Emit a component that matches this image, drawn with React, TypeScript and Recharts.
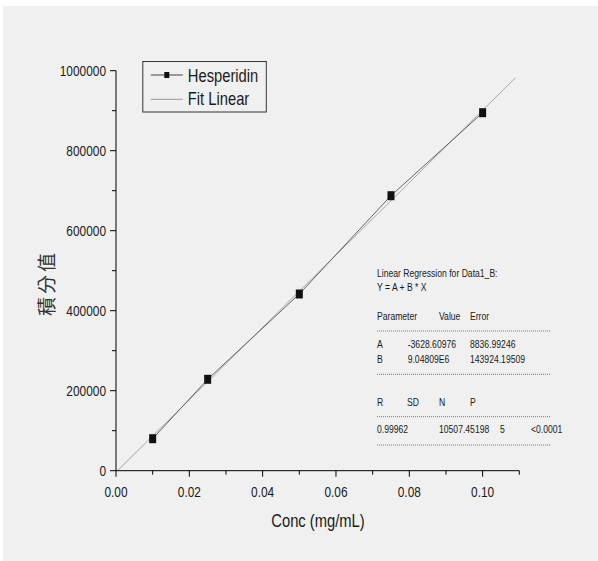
import { ComposedChart, Customized, Line, XAxis, YAxis } from "recharts";

// concentration (mg/mL) vs integrated peak area
const concValues = [0.01, 0.025, 0.05, 0.075, 0.1];
const areaValues = [80000, 228500, 441800, 687500, 895000];

// fitted line endpoints as drawn
const fitConc = [0, 0.109];
const fitArea = [-3629, 982600];

const xTicks = [0, 0.01, 0.02, 0.03, 0.04, 0.05, 0.06, 0.07, 0.08, 0.09, 0.1, 0.11];
const yTicks = [0, 100000, 200000, 300000, 400000, 500000, 600000, 700000, 800000, 900000, 1000000];

const seriesNames = ["Hesperidin", "Fit Linear"];

const regressionTitle = ["Linear Regression for Data1_B:", "Y = A + B * X"];
const paramHeader = ["Parameter", "Value", "Error"];
const paramRows = [
	["A", "-3628.60976", "8836.99246"],
	["B", "9.04809E6", "143924.19509"],
];
const statHeader = ["R", "SD", "N", "P"];
const statValues = ["0.99962", "10507.45198", "5", "<0.0001"];

const points = concValues.map((x, i) => ({ x, y: areaValues[i] }));
const fitPoints = fitConc.map((x, i) => ({ x, y: fitArea[i] }));

const FONT = "'Liberation Sans', Arial, sans-serif";
const SQUEEZE = 0.82;

// narrow text: Liberation Sans squeezed horizontally
const NText = ({ x, y, size, anchor = "start", children }: any) => (
	<text
		transform={`translate(${x} ${y}) scale(${SQUEEZE} 1)`}
		textAnchor={anchor}
		fontSize={size}
		fontFamily={FONT}
		fill="#1a1a1a"
	>
		{children}
	</text>
);

const XTick = (props: any) => {
	const { x, y, payload } = props;
	const v = payload.value;
	const major = Math.round(v * 100) % 2 === 0 && v <= 0.1;
	return (
		<g>
			<line x1={x} y1={y} x2={x} y2={y + (major ? 6 : 4)} stroke="#000" />
			{major && (
				<NText x={x} y={y + 26.5} size={14.5} anchor="middle">
					{v.toFixed(2)}
				</NText>
			)}
		</g>
	);
};

const YTick = (props: any) => {
	const { x, y, payload } = props;
	const v = payload.value;
	const major = v % 200000 === 0;
	return (
		<g>
			<line x1={x - (major ? 6 : 4)} y1={y} x2={x} y2={y} stroke="#000" />
			{major && (
				<NText x={x - 10} y={y + 5} size={14.5} anchor="end">
					{v}
				</NText>
			)}
		</g>
	);
};

const Square = (props: any) => {
	const { cx, cy } = props;
	if (cx == null || cy == null) return null;
	return <rect x={cx - 3.5} y={cy - 4.5} width={7} height={9} fill="#111" />;
};

const LegendBox = () => (
	<g transform="translate(139.3 55)">
		<rect x={0.5} y={0.5} width={123.5} height={50.5} fill="none" stroke="#333" />
		<line x1={8.5} y1={14} x2={40.5} y2={14} stroke="#444" />
		<rect x={22} y={11} width={5} height={6} fill="#111" />
		<NText x={45.5} y={20.5} size={18}>{seriesNames[0]}</NText>
		<line x1={8.5} y1={38.3} x2={40.5} y2={38.3} stroke="#999" />
		<NText x={45.5} y={44} size={18}>{seriesNames[1]}</NText>
	</g>
);

const Dashes = ({ y }: { y: number }) => (
	<line x1={374} y1={y} x2={547} y2={y} stroke="#555" strokeWidth={0.8} strokeDasharray="1 1" />
);

const RegressionNote = () => {
	const s = 10.5;
	const paramCols = [374, 404.7, 467];
	const statCols = [374, 404, 436, 467];
	const valCols = [374, 436, 497, 528];
	return (
		<g>
			<NText x={374} y={271.3} size={s}>{regressionTitle[0]}</NText>
			<NText x={374} y={284.5} size={s}>{regressionTitle[1]}</NText>
			<NText x={374} y={314} size={s}>{paramHeader[0]}</NText>
			<NText x={436} y={314} size={s}>{paramHeader[1]}</NText>
			<NText x={467} y={314} size={s}>{paramHeader[2]}</NText>
			<Dashes y={325} />
			{paramRows.map((row, i) => (
				<g key={row[0]}>
					{row.map((cell, j) => (
						<NText key={j} x={paramCols[j]} y={342.3 + i * 14.4} size={s}>
							{cell}
						</NText>
					))}
				</g>
			))}
			<Dashes y={368.3} />
			{statHeader.map((h, i) => (
				<NText key={h} x={statCols[i]} y={399.7} size={s}>{h}</NText>
			))}
			<Dashes y={410.7} />
			{statValues.map((v, i) => (
				<NText key={i} x={valCols[i]} y={427.3} size={s}>{v}</NText>
			))}
			<Dashes y={439} />
		</g>
	);
};

const AxisTitles = () => (
	<g>
		<text
			x={42}
			y={277}
			transform="rotate(-90 42 277)"
			textAnchor="middle"
			dominantBaseline="central"
			fontSize={19}
			letterSpacing={3}
			fontFamily="'Noto Sans CJK TC', 'Noto Sans CJK SC', sans-serif"
			fill="#333"
		>
			積分值
		</text>
		<NText x={315} y={521} size={18} anchor="middle">
			Conc (mg/mL)
		</NText>
	</g>
);

export default function App() {
	return (
		<div style={{ position: "absolute", left: 3, top: 6, width: 595, height: 555, background: "#f0f0f0" }}>
			<ComposedChart
				width={595}
				height={555}
				margin={{ top: 64.7, right: 78.7, left: 0, bottom: 0 }}
			>
				<XAxis
					type="number"
					dataKey="x"
					domain={[0, 0.11]}
					ticks={xTicks}
					allowDataOverflow
					height={90.3}
					tickSize={0}
					tickMargin={0}
					tickLine={false}
					axisLine={{ stroke: "#000" }}
					tick={<XTick />}
					interval={0}
				/>
				<YAxis
					type="number"
					dataKey="y"
					domain={[0, 1000000]}
					ticks={yTicks}
					allowDataOverflow
					width={113}
					tickSize={0}
					tickMargin={0}
					tickLine={false}
					axisLine={{ stroke: "#000" }}
					tick={<YTick />}
					interval={0}
				/>
				<Line
					data={fitPoints}
					dataKey="y"
					name={seriesNames[1]}
					type="linear"
					stroke="#a8a8a8"
					strokeWidth={1}
					dot={false}
					activeDot={false}
					isAnimationActive={false}
				/>
				<Line
					data={points}
					dataKey="y"
					name={seriesNames[0]}
					type="linear"
					stroke="#555"
					strokeWidth={0.9}
					dot={<Square />}
					activeDot={false}
					isAnimationActive={false}
				/>
				<Customized component={<LegendBox />} />
				<Customized component={<RegressionNote />} />
				<Customized component={<AxisTitles />} />
			</ComposedChart>
		</div>
	);
}
